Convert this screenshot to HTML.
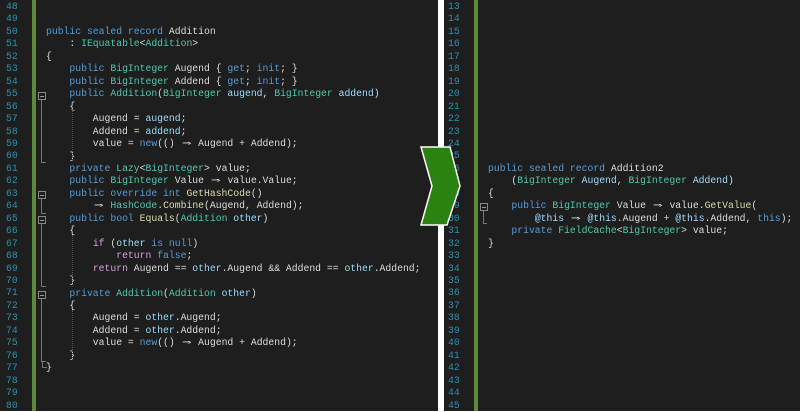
<!DOCTYPE html>
<html><head><meta charset="utf-8"><style>
html,body{margin:0;padding:0}
body{width:800px;height:411px;background:#fff;position:relative;overflow:hidden;font-family:"Liberation Mono","DejaVu Sans Mono",monospace;font-size:9.75px}
.p{position:absolute;top:0;height:411px;background:#1e1e1e}
.ln{position:absolute;color:#2b91af;line-height:12.45px;white-space:pre}
.c{position:absolute;color:#dcdcdc;line-height:12.45px;white-space:pre}
.bar{position:absolute;top:0;height:411px;width:4px;background:#5b8a3a}
.k{color:#569cd6}.t{color:#4ec9b0}.v{color:#9cdcfe}.m{color:#d8a0df}.f{color:#dcdcaa}
.a{display:inline-block;width:2ch;text-align:center;font-family:"DejaVu Sans Mono",monospace;transform:scaleX(1.6)}
.box{position:absolute;width:6px;height:6px;border:1px solid #888;}
.box:after{content:"";position:absolute;left:1px;top:3px;width:4px;height:1px;background:#999}
.vl{position:absolute;width:1px;background:#777}
.hl{position:absolute;height:1px;background:#777}
.dl{position:absolute;width:0;border-left:1px dotted #555}
</style></head><body>
<div class="p" style="left:0;width:438px"></div>
<div class="p" style="left:444px;width:356px"></div>
<div class="bar" style="left:32px"></div>
<div class="bar" style="left:474px"></div>

<div class="ln" style="left:6px;top:1px">48
49
50
51
52
53
54
55
56
57
58
59
60
61
62
63
64
65
66
67
68
69
70
71
72
73
74
75
76
77
78
79
80</div>

<div class="c" style="left:46px;top:26px"><span class="k">public sealed record</span> Addition
    : <span class="t">IEquatable</span>&lt;<span class="t">Addition</span>&gt;
{
    <span class="k">public</span> <span class="t">BigInteger</span> Augend { <span class="k">get</span>; <span class="k">init</span>; }
    <span class="k">public</span> <span class="t">BigInteger</span> Addend { <span class="k">get</span>; <span class="k">init</span>; }
    <span class="k">public</span> <span class="t">Addition</span>(<span class="t">BigInteger</span> <span class="v">augend</span>, <span class="t">BigInteger</span> <span class="v">addend</span>)
    {
        Augend = <span class="v">augend</span>;
        Addend = <span class="v">addend</span>;
        value = <span class="k">new</span>(() <span class="a">⇒</span> Augend + Addend);
    }
    <span class="k">private</span> <span class="t">Lazy</span>&lt;<span class="t">BigInteger</span>&gt; value;
    <span class="k">public</span> <span class="t">BigInteger</span> Value <span class="a">⇒</span> value.Value;
    <span class="k">public override int</span> <span class="f">GetHashCode</span>()
        <span class="a">⇒</span> <span class="t">HashCode</span>.<span class="f">Combine</span>(Augend, Addend);
    <span class="k">public bool</span> <span class="f">Equals</span>(<span class="t">Addition</span> <span class="v">other</span>)
    {
        <span class="m">if</span> (<span class="v">other</span> <span class="k">is null</span>)
            <span class="m">return</span> <span class="k">false</span>;
        <span class="m">return</span> Augend == <span class="v">other</span>.Augend &amp;&amp; Addend == <span class="v">other</span>.Addend;
    }
    <span class="k">private</span> <span class="t">Addition</span>(<span class="t">Addition</span> <span class="v">other</span>)
    {
        Augend = <span class="v">other</span>.Augend;
        Addend = <span class="v">other</span>.Addend;
        value = <span class="k">new</span>(() <span class="a">⇒</span> Augend + Addend);
    }
}</div>

<div class="box" style="left:38px;top:92px"></div>
<div class="vl" style="left:41px;top:100px;height:63px"></div>
<div class="hl" style="left:41px;top:162px;width:5px"></div>
<div class="box" style="left:38px;top:191px"></div>
<div class="vl" style="left:41px;top:199px;height:15px"></div>
<div class="hl" style="left:41px;top:213px;width:5px"></div>
<div class="box" style="left:38px;top:216px"></div>
<div class="vl" style="left:41px;top:224px;height:63px"></div>
<div class="hl" style="left:41px;top:286px;width:5px"></div>
<div class="box" style="left:38px;top:291px"></div>
<div class="vl" style="left:41px;top:299px;height:63px"></div>
<div class="hl" style="left:41px;top:361px;width:5px"></div>
<div class="vl" style="left:42px;top:362px;height:6px"></div>
<div class="hl" style="left:42px;top:367px;width:5px"></div>
<div class="dl" style="left:72px;top:110px;height:50px"></div>
<div class="dl" style="left:72px;top:235px;height:50px"></div>
<div class="dl" style="left:72px;top:310px;height:50px"></div>

<div class="ln" style="left:448px;top:1px">13
14
15
16
17
18
19
20
21
22
23
24
25
26
27
28
29
30
31
32
33
34
35
36
37
38
39
40
41
42
43
44
45</div>

<div class="c" style="left:488px;top:163px"><span class="k">public sealed record</span> Addition2
    (<span class="t">BigInteger</span> <span class="v">Augend</span>, <span class="t">BigInteger</span> <span class="v">Addend</span>)
{
    <span class="k">public</span> <span class="t">BigInteger</span> Value <span class="a">⇒</span> value.<span class="f">GetValue</span>(
        <span class="v">@this</span> <span class="a">⇒</span> <span class="v">@this</span>.Augend + <span class="v">@this</span>.Addend, <span class="k">this</span>);
    <span class="k">private</span> <span class="t">FieldCache</span>&lt;<span class="t">BigInteger</span>&gt; value;
}</div>
<div class="box" style="left:480px;top:203px"></div>
<div class="vl" style="left:483px;top:211px;height:13px"></div>
<div class="hl" style="left:483px;top:223px;width:4px"></div>

<svg style="position:absolute;left:0;top:0" width="800" height="411">
<polygon points="421,147 450,147 460,186 447,225 421,225 432,186" fill="#2a8210" stroke="#fff" stroke-width="1.5"/>
</svg>
</body></html>
